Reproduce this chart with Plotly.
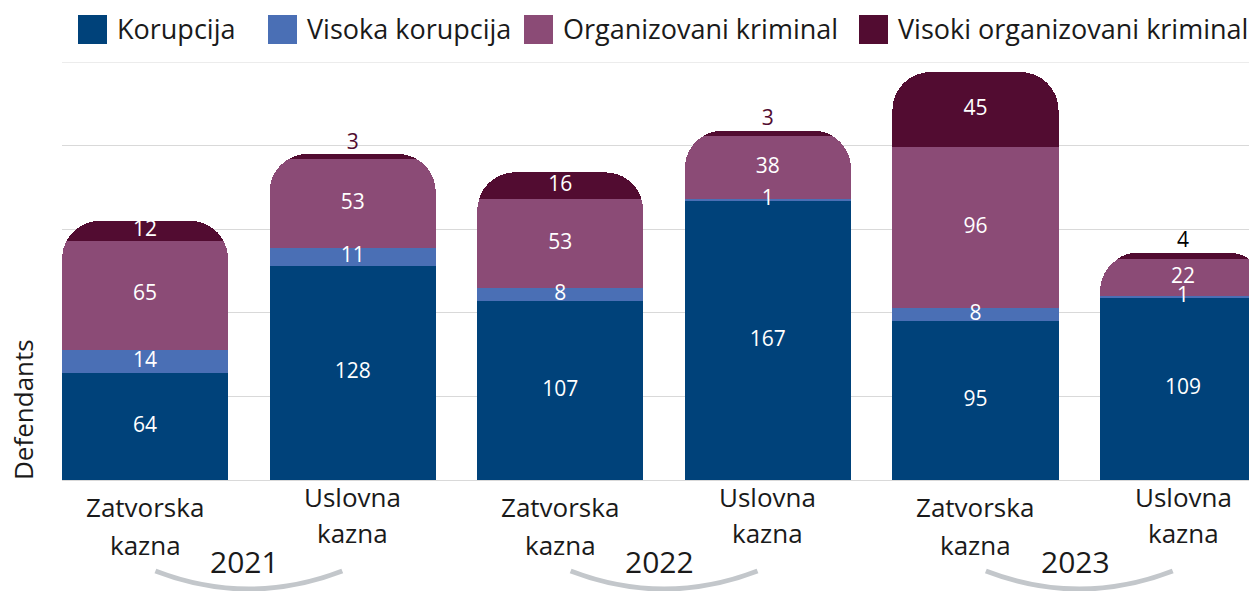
import plotly.graph_objects as go

categories = ["Zatvorska kazna", "Uslovna kazna", "Zatvorska kazna", "Uslovna kazna", "Zatvorska kazna", "Uslovna kazna"]
years = ["2021", "2022", "2023"]
series_names = ["Korupcija", "Visoka korupcija", "Organizovani kriminal", "Visoki organizovani kriminal"]
korupcija = [64, 128, 107, 167, 95, 109]
visoka_korupcija = [14, 11, 8, 1, 8, 1]
organizovani = [65, 53, 53, 38, 96, 22]
visoki_organizovani = [12, 3, 16, 3, 45, 4]

colors = ["#00427a", "#4a6fb5", "#8b4b76", "#520c31"]
values = [korupcija, visoka_korupcija, organizovani, visoki_organizovani]

# page body has an 8px margin: work in reference pixel coords and shift
OFF = 8
W, H = 1257 - OFF, 591 - OFF
L, R, T = 62 - OFF, 0, 62 - OFF
PLOT_BOTTOM = 480 - OFF
B = H - PLOT_BOTTOM
PW, PH = W - L - R, H - T - B


def px(xp):
    return (xp - OFF - L) / PW


def py(yp):
    return (PLOT_BOTTOM - (yp - OFF)) / PH


FONT = "Open Sans"
TXT = "#1a1a1a"
fig = go.Figure()
xs = list(range(len(categories)))

# stacked bars
for name, vals, col in zip(series_names, values, colors):
    fig.add_trace(go.Bar(
        x=xs, y=vals, name=name, marker=dict(color=col, line=dict(width=0), cornerradius=38),
        showlegend=False, hoverinfo="name+y",
    ))

# value labels, placed at the middle of each segment (outside on top for tiny top segments)
base = [0] * len(xs)
for i, vals in enumerate(values):
    mids = [b + v / 2 for b, v in zip(base, vals)]
    tops = [b + v for b, v in zip(base, vals)]
    last = i == len(values) - 1
    in_x, in_y, in_t, out_x, out_y, out_t, out_c = [], [], [], [], [], [], []
    for j, v in enumerate(vals):
        if last and v <= 4:
            out_x.append(j); out_y.append(tops[j]); out_t.append(str(v))
            out_c.append("#000000" if j == len(vals) - 1 else "#520c31")
        else:
            in_x.append(j); in_y.append(mids[j]); in_t.append(str(v))
    fig.add_trace(go.Scatter(x=in_x, y=in_y, text=in_t, mode="text", textposition="middle center",
                             textfont=dict(color="white", size=21, family=FONT),
                             showlegend=False, hoverinfo="skip", cliponaxis=False))
    if out_x:
        fig.add_trace(go.Scatter(x=out_x, y=out_y, text=out_t, mode="text", textposition="top center",
                                 textfont=dict(color=out_c, size=21, family=FONT),
                                 showlegend=False, hoverinfo="skip", cliponaxis=False))
    base = tops

fig.update_layout(
    width=W, height=H, barmode="stack", bargap=0.2,
    margin=dict(l=L, r=R, t=T, b=B, autoexpand=False),
    paper_bgcolor="white", plot_bgcolor="white",
    font=dict(family=FONT, color=TXT),
    xaxis=dict(range=[-0.4, 5.356], showticklabels=False, showgrid=False, zeroline=False),
    yaxis=dict(range=[0, 250], dtick=50, showticklabels=False, gridcolor="#d9d9d9",
               gridwidth=1, zeroline=True, zerolinecolor="#d9d9d9", zerolinewidth=1),
)

annotations = []
shapes = [dict(type="line", xref="paper", yref="y", x0=0, x1=1, y0=250, y1=250,
               line=dict(color="#d9d9d9", width=1), layer="below")]

# category labels
for j, cat in enumerate(categories):
    l1, l2 = cat.split(" ")
    if j % 2 == 0:
        y1, y2 = 507, 545
    else:
        y1, y2 = 497, 533
    for txt, yy in ((l1, y1), (l2, y2)):
        annotations.append(dict(x=j, y=py(yy), xref="x", yref="paper", text=txt, showarrow=False,
                                font=dict(size=26, family=FONT, color=TXT),
                                xanchor="center", yanchor="middle"))

# years with arcs
for k, yr in enumerate(years):
    c = 2 * k + 0.5
    annotations.append(dict(x=c - 0.02, y=py(561), xref="x", yref="paper", text=yr, showarrow=False,
                            font=dict(size=30, family=FONT, color=TXT),
                            xanchor="center", yanchor="middle"))
    x0, x1 = c - 0.45, c + 0.45
    y0 = py(571)
    yc = 2 * py(589) - y0
    shapes.append(dict(type="path", xref="x", yref="paper",
                       path=f"M {x0},{y0} Q {c},{yc} {x1},{y0}",
                       line=dict(color="#c3c7cb", width=5)))

# y axis title
annotations.append(dict(x=px(23), y=py(410), xref="paper", yref="paper", text="Defendants",
                        showarrow=False, textangle=-90, font=dict(size=26, family=FONT, color=TXT),
                        xanchor="center", yanchor="middle"))

# legend
sq_left = [78, 268, 524, 859]
for name, col, xl in zip(series_names, colors, sq_left):
    shapes.append(dict(type="rect", xref="paper", yref="paper",
                       x0=px(xl), x1=px(xl + 29), y0=py(44), y1=py(15),
                       fillcolor=col, line=dict(width=0)))
    annotations.append(dict(x=px(xl + 37), y=py(29), xref="paper", yref="paper", text=name,
                            showarrow=False, xanchor="left", yanchor="middle",
                            font=dict(size=27, family=FONT, color=TXT)))

fig.update_layout(annotations=annotations, shapes=shapes)
fig.write_html("out.html")
